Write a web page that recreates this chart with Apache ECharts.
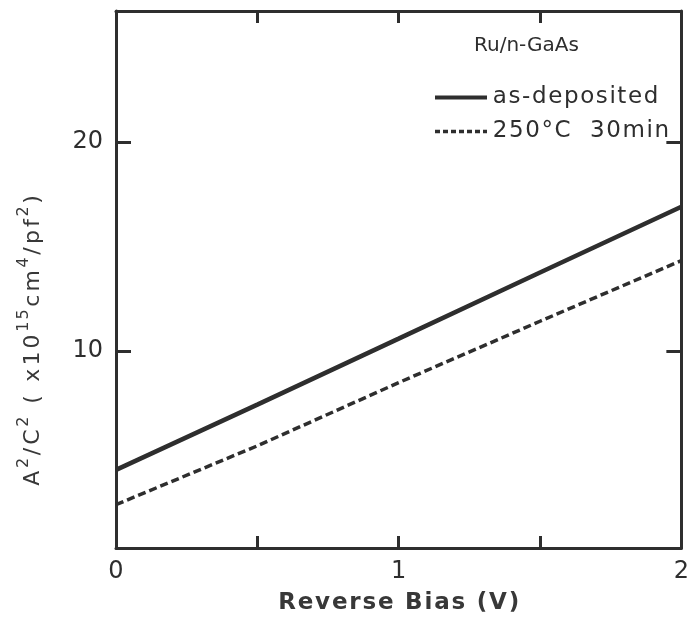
<!DOCTYPE html>
<html>
<head>
<meta charset="utf-8">
<script src="https://cdn.jsdelivr.net/npm/echarts@6/dist/echarts.min.js"></script>
<style>
html,body{margin:0;padding:0;background:#fff;}
#chart{width:692px;height:620px;}
</style>
</head>
<body>
<div id="chart"></div>
<script>
const biasV = [0, 0.5, 1, 1.5, 2];
const asDeposited = [4.33, 7.45, 10.6, 13.76, 16.9];
const annealed = [2.67, 5.48, 8.5, 11.43, 14.33];
const xTickLabels = [0, 1, 2];
const yTickLabels = [10, 20];
const seriesNames = ['as-deposited', '250°C  30min'];
const legendTitle = 'Ru/n-GaAs';
const xTitle = 'Reverse Bias (V)';

const INK = '#2e2e2e';
const FONT = 'DejaVu Sans';

// turn a plain string into per-character rich tokens (letter spacing)
function spaced(str, style) {
  return Array.from(str).map(ch => '{' + style + '|' + ch + '}').join('');
}

const chart = echarts.init(document.getElementById('chart'), null, {renderer: 'canvas'});

const baseX = {
  type: 'value', min: 0, max: 2,
  axisLine: {show: true, onZero: false, lineStyle: {color: INK, width: 3}},
  axisTick: {show: true, inside: true, length: 12, lineStyle: {color: INK, width: 3}, customValues: [0.5, 1, 1.5]},
  splitLine: {show: false}
};
const baseY = {
  type: 'value', min: 0.6, max: 26.25,
  axisLine: {show: true, onZero: false, lineStyle: {color: INK, width: 3}},
  axisTick: {show: true, inside: true, length: 15, lineStyle: {color: INK, width: 3}, customValues: yTickLabels},
  splitLine: {show: false}
};

// y-axis title with superscripts
const yTitleParts = [
  ['b', 'A'], ['s', '2'], ['b', '/C'], ['s', '2'], ['b', ' ( x10'], ['s', '15'],
  ['b', 'cm'], ['s', '4'], ['b', '/pf'], ['s', '2'], ['b', ')']
];
const yTitle = yTitleParts.map(p => spaced(p[1], p[0])).join('');

chart.setOption({
  animation: false,
  backgroundColor: '#fff',
  title: {
    text: legendTitle, left: 469, top: 31,
    textStyle: {fontFamily: FONT, fontSize: 20, fontWeight: 'normal', color: INK}
  },
  legend: {
    orient: 'vertical', left: 428, top: 81, itemGap: 11,
    itemWidth: 52, itemHeight: 14,
    itemStyle: {opacity: 0},
    lineStyle: {width: 'inherit'},
    formatter: name => spaced(name, 'l'),
    textStyle: {
      fontFamily: FONT, fontSize: 23, color: INK,
      rich: {l: {fontFamily: FONT, fontSize: 23, color: INK, padding: [0, 0.8]}}
    },
    data: [
      {name: seriesNames[0], lineStyle: {width: 4, color: INK, type: 'solid'}},
      {name: seriesNames[1], lineStyle: {width: 3.5, color: INK, type: [5, 3]}}
    ]
  },
  grid: {left: 116, right: 4, top: 11, bottom: 70, containLabel: false},
  xAxis: [
    Object.assign({}, baseX, {
      position: 'bottom',
      axisLabel: {show: true, margin: 12, fontFamily: FONT, fontSize: 24, color: INK,
        customValues: xTickLabels, formatter: v => String(v)},
      name: spaced(xTitle, 'x'), nameLocation: 'middle', nameGap: 44,
      nameTextStyle: {
        fontFamily: FONT, fontSize: 23, fontWeight: 'bold', color: INK,
        rich: {x: {fontFamily: FONT, fontSize: 23, fontWeight: 'bold', color: '#383838', padding: [0, 0.9]}}
      }
    }),
    Object.assign({}, baseX, {position: 'top', axisLabel: {show: false}})
  ],
  yAxis: [
    Object.assign({}, baseY, {
      position: 'left',
      axisLabel: {show: true, margin: 13, fontFamily: FONT, fontSize: 24, color: INK,
        customValues: yTickLabels, formatter: v => String(v)},
      name: yTitle,
      nameLocation: 'middle', nameGap: 72, nameRotate: 90,
      nameTextStyle: {
        color: INK, fontFamily: FONT, padding: [0, 122, 0, 0],
        rich: {
          b: {fontFamily: FONT, fontSize: 22, color: '#383838', lineHeight: 28, verticalAlign: 'bottom', padding: [0, 1.6]},
          s: {fontFamily: FONT, fontSize: 16, color: '#383838', lineHeight: 28, verticalAlign: 'top', padding: [0, 1, 9, 1]}
        }
      }
    }),
    Object.assign({}, baseY, {position: 'right', axisLabel: {show: false}})
  ],
  series: [
    {
      name: seriesNames[0], type: 'line', xAxisIndex: 0, yAxisIndex: 0,
      data: biasV.map((x, i) => [x, asDeposited[i]]),
      symbol: 'none', smooth: false,
      lineStyle: {color: INK, width: 4.5, type: 'solid'},
      itemStyle: {color: INK}
    },
    {
      name: seriesNames[1], type: 'line', xAxisIndex: 0, yAxisIndex: 0,
      data: biasV.map((x, i) => [x, annealed[i]]),
      symbol: 'none', smooth: false,
      lineStyle: {color: INK, width: 3.5, type: [8, 4]},
      itemStyle: {color: INK}
    }
  ]
});
</script>
</body>
</html>
